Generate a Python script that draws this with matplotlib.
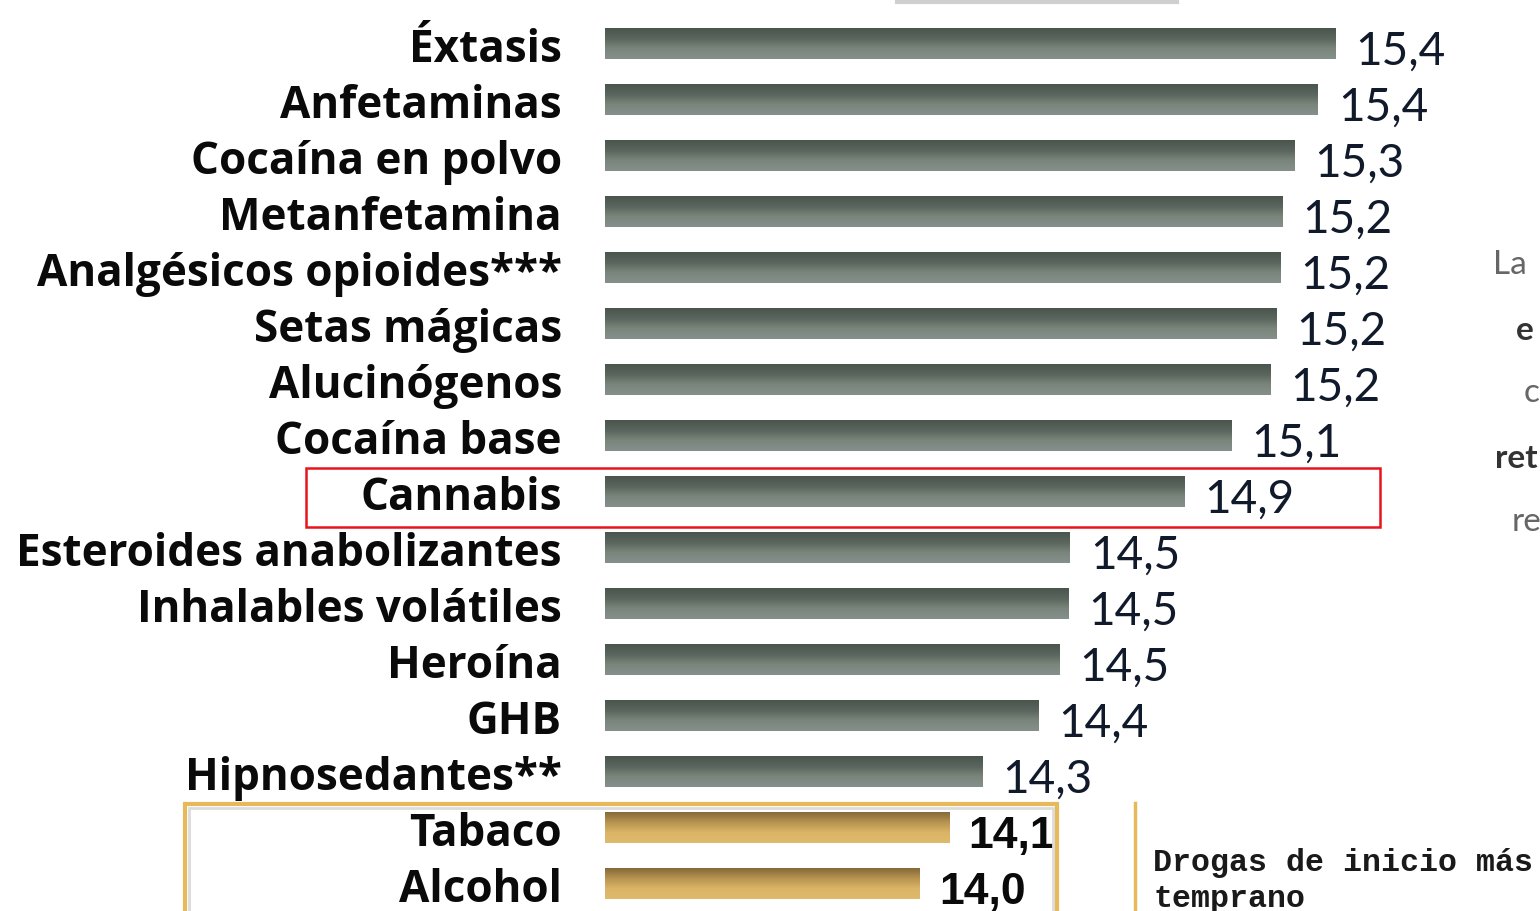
import numpy as np
import matplotlib
matplotlib.use("Agg")
import matplotlib.pyplot as plt
from matplotlib.colors import LinearSegmentedColormap
from matplotlib.patches import Rectangle
from matplotlib.lines import Line2D

categories = ["Éxtasis", "Anfetaminas", "Cocaína en polvo", "Metanfetamina",
              "Analgésicos opioides***", "Setas mágicas", "Alucinógenos",
              "Cocaína base", "Cannabis", "Esteroides anabolizantes",
              "Inhalables volátiles", "Heroína", "GHB", "Hipnosedantes**",
              "Tabaco", "Alcohol"]
# values (labels as printed in the chart)
values = [15.40, 15.34, 15.26, 15.22, 15.215, 15.20, 15.18, 15.05, 14.89, 14.505,
          14.50, 14.47, 14.40, 14.21, 14.10, 14.00]
value_labels = ["15,4", "15,4", "15,3", "15,2", "15,2", "15,2", "15,2", "15,1",
                "14,9", "14,5", "14,5", "14,5", "14,4", "14,3", "14,1", "14,0"]
legal = [False] * 14 + [True, True]

W, H = 1540, 911
DPI = 100
fig = plt.figure(figsize=(W / DPI, H / DPI), dpi=DPI)
ax = fig.add_axes([0, 0, 1, 1])
ax.set_axis_off()

PPU = 297.0             # pixels per unit
BASE = 12.94            # axis start value (bars start here)
X_LEFT = BASE - 605 / PPU
X_RIGHT = BASE + (W - 605) / PPU
ROW = 56.0
Y_TOP = -44 / ROW
Y_BOT = (H - 44) / ROW
BAR_H = 31 / ROW

grey_cmap = LinearSegmentedColormap.from_list("g", ["#4a554d", "#5a655d", "#7a867c", "#84908a"])
tan_cmap = LinearSegmentedColormap.from_list("t", ["#85693a", "#b89450", "#dbb466", "#e0ba6c"])
grad = np.linspace(0, 1, 64).reshape(-1, 1)

label_font = "Open Sans"
for i, (cat, v, lab, lg) in enumerate(zip(categories, values, value_labels, legal)):
    cmap = tan_cmap if lg else grey_cmap
    ax.imshow(grad, extent=(BASE, v, i + BAR_H / 2, i - BAR_H / 2), origin="upper",
              aspect="auto", cmap=cmap, interpolation="bilinear", zorder=2)
    ax.text(BASE - 43 / PPU, i + 18 / ROW, cat, ha="right", va="baseline", fontsize=31.7,
            fontweight="bold", family=label_font, color="#0a0a0a", zorder=3)
    if lg:
        ax.text(v + 19 / PPU, i + 20 / ROW, lab, ha="left", va="baseline", fontsize=32,
                fontweight="bold", family="Liberation Sans",
                color="#0a0a0a", zorder=6)
    else:
        ax.text(v + 20 / PPU, i + 21 / ROW, lab, ha="left", va="baseline", fontsize=33,
                family="Lato", fontweight="normal", color="#111a2a", zorder=3)

ax.set_xlim(X_LEFT, X_RIGHT)
ax.set_ylim(Y_BOT, Y_TOP)

def px(x, y):
    return x / W, 1 - y / H

# red highlight box around Cannabis
fig.patches.append(Rectangle(px(306, 527), (1380 - 306) / W, (527 - 468) / H,
                             transform=fig.transFigure, fill=False,
                             edgecolor="#e8141a", linewidth=1.8, zorder=5))
# gold box around legal drugs
fig.patches.append(Rectangle(px(185, 930), (1057 - 185) / W, (930 - 804) / H,
                             transform=fig.transFigure, fill=False,
                             edgecolor="#e7b95a", linewidth=3, zorder=5))
fig.patches.append(Rectangle(px(189, 930), (1053 - 189) / W, (930 - 808) / H,
                             transform=fig.transFigure, fill=False,
                             edgecolor="#dcdcdc", linewidth=2, zorder=4))
fig.lines.append(Line2D([1135 / W, 1135 / W], [1 - 803 / H, 0],
                        transform=fig.transFigure, color="#e7b95a", linewidth=2.5))
fig.lines.append(Line2D([897 / W, 1177 / W], [1 - 1.5 / H, 1 - 1.5 / H],
                        transform=fig.transFigure, color="#cfcfcf", linewidth=3))

fig.text(1153 / W, 1 - 863 / H, "Drogas de inicio más", family="Liberation Mono",
         fontweight="bold", fontsize=22.8, color="#1a1a1a", va="center", ha="left")
fig.text(1153 / W, 1 - 899 / H, "temprano", family="Liberation Mono",
         fontweight="bold", fontsize=22.8, color="#1a1a1a", va="center", ha="left")

# partially visible side text
for txt, x, y, bold in [("La", 1493, 265, False), ("e", 1516, 330, True),
                        ("c", 1524, 393, False), ("ret", 1495, 458, True),
                        ("re", 1512, 522, False)]:
    fig.text(x / W, 1 - y / H, txt, family="Lato", fontsize=24,
             fontweight="bold" if bold else "normal",
             color="#333333" if bold else "#666666", va="center", ha="left")

fig.savefig("out.png", dpi=DPI)
